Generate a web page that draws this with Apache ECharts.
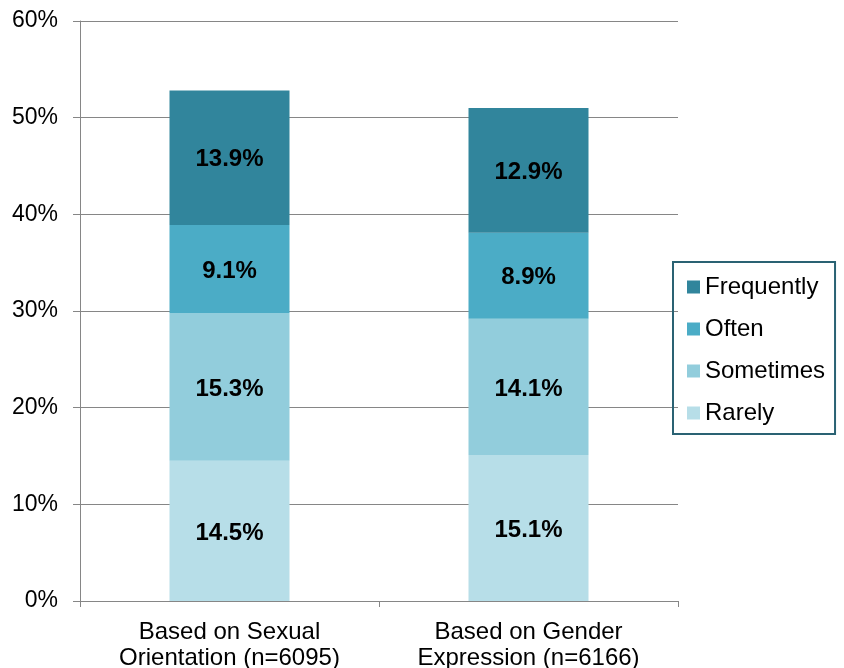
<!DOCTYPE html>
<html>
<head>
<meta charset="utf-8">
<script src="https://cdn.jsdelivr.net/npm/echarts@6/dist/echarts.min.js"></script>
<style>
html,body{margin:0;padding:0;background:#fff;}
#chart{width:844px;height:668px;}
</style>
</head>
<body>
<div id="chart"></div>
<script>
const categories = ['Based on Sexual\nOrientation (n=6095)', 'Based on Gender\nExpression (n=6166)'];
const rarely = [14.5, 15.1];
const sometimes = [15.3, 14.1];
const often = [9.1, 8.9];
const frequently = [13.9, 12.9];
const yTicks = [0, 10, 20, 30, 40, 50, 60];

const font = 'Liberation Sans, Arial, sans-serif';
const chart = echarts.init(document.getElementById('chart'), null, {renderer: 'canvas'});

function mk(name, data, color) {
  return {
    name: name, type: 'bar', stack: 'total', data: data, barWidth: 120,
    itemStyle: {color: color},
    label: {
      show: true, position: 'inside', color: '#000', fontWeight: 'bold',
      fontSize: 24, fontFamily: font, offset: [0, 2],
      formatter: p => p.value.toFixed(1) + '%'
    }
  };
}

chart.setOption({
  animation: false,
  grid: {left: 80, right: 166, top: 21, bottom: 67, containLabel: false, outerBoundsMode: 'none'},
  legend: {
    orient: 'vertical', left: 673, top: 262,
    data: ['Frequently', 'Often', 'Sometimes', 'Rarely'],
    itemWidth: 13, itemHeight: 13, itemGap: 16,
    borderColor: '#2a6273', borderWidth: 2,
    padding: [12, 10, 8, 14],
    icon: 'rect',
    textStyle: {fontSize: 24, fontFamily: font, color: '#000', lineHeight: 26}
  },
  xAxis: {
    type: 'category', data: categories,
    axisLine: {lineStyle: {color: '#868686', width: 1}},
    axisTick: {show: true, length: 6, lineStyle: {color: '#868686'}},
    axisLabel: {fontSize: 24, fontFamily: font, color: '#000', lineHeight: 26, margin: 18}
  },
  yAxis: {
    type: 'value', min: yTicks[0], max: yTicks[yTicks.length - 1], interval: 10,
    axisLine: {show: true, lineStyle: {color: '#868686', width: 1}},
    axisTick: {show: true, length: 7, lineStyle: {color: '#868686'}},
    splitLine: {lineStyle: {color: '#868686', width: 1}},
    axisLabel: {fontSize: 23, fontFamily: font, color: '#000', margin: 22, formatter: v => v + '%'}
  },
  series: [
    mk('Rarely', rarely, '#b7dee8'),
    mk('Sometimes', sometimes, '#92cddc'),
    mk('Often', often, '#4bacc6'),
    mk('Frequently', frequently, '#31859c')
  ]
});
</script>
</body>
</html>
